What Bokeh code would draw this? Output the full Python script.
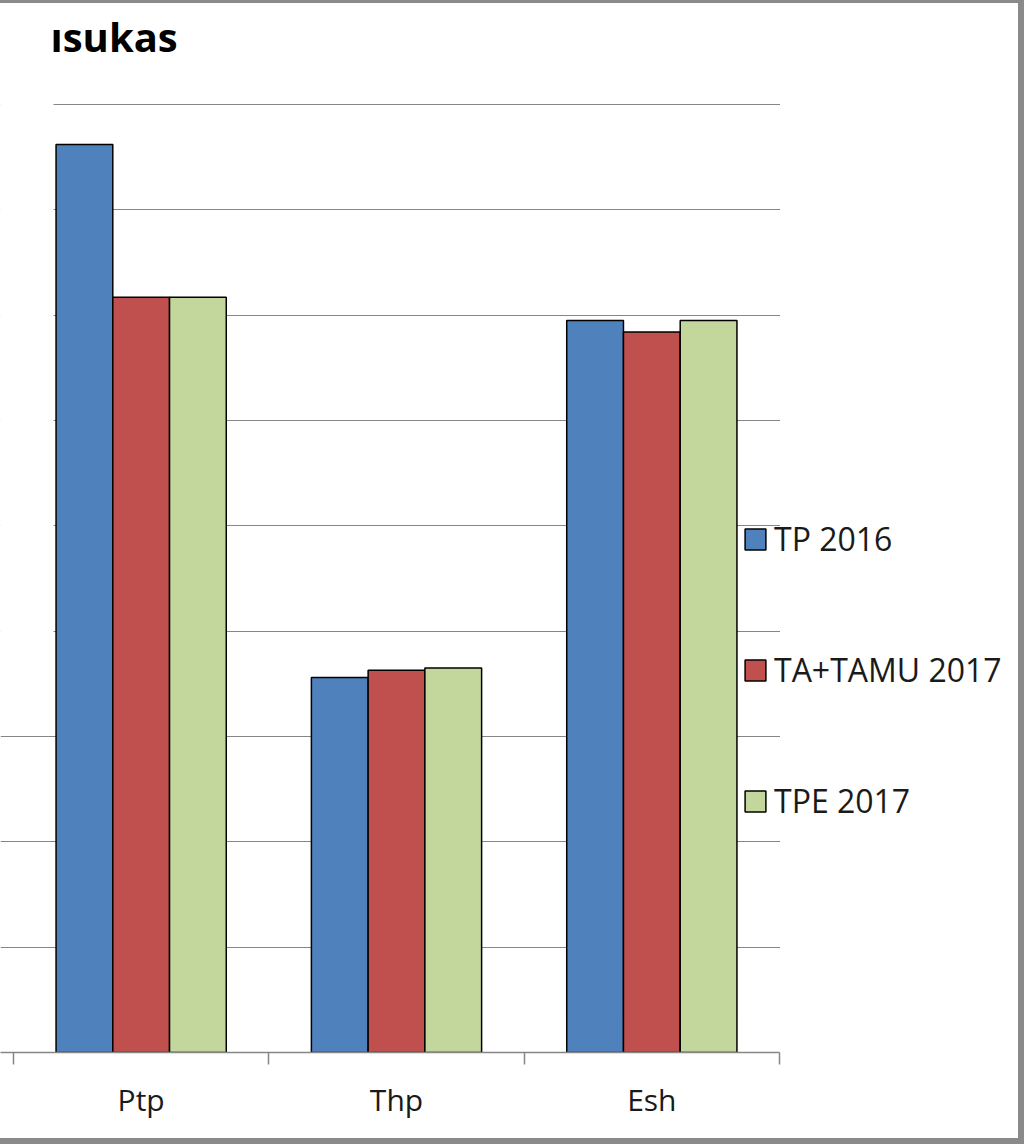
from bokeh.plotting import figure
from bokeh.models import (Range1d, LinearAxis, FixedTicker, Grid, Label, BoxAnnotation)
from bokeh.embed import file_html
from bokeh.resources import INLINE
from bokeh.models import ColumnDataSource

# ---- data ----
categories = ["Ptp", "Thp", "Esh"]
series_names = ["TP 2016", "TA+TAMU 2017", "TPE 2017"]
tp_2016 = [86.2, 35.6, 69.5]
ta_tamu_2017 = [71.7, 36.3, 68.4]
tpe_2017 = [71.7, 36.5, 69.5]
grid_values = [10, 20, 30, 40, 50, 60, 70, 80, 90]
colors = ["#4F81BD", "#C0504D", "#C3D69B"]
title_text = "ısukas"

FONT = "Open Sans"
GRAY = "#868686"

n = len(categories)
x_centers = [i + 0.5 for i in range(n)]
boundaries = [float(i) for i in range(n + 1)]
bar_w = 1 / 4.5
offsets = [-bar_w, 0.0, bar_w]

X0, X1 = -0.0509, 3.9595
p = figure(width=1024, height=1144,
           x_range=Range1d(X0, X1), y_range=Range1d(0, 99.873),
           output_backend="svg", toolbar_location=None,
           x_axis_location=None, y_axis_location=None,
           min_border_left=0, min_border_right=0,
           min_border_top=0, min_border_bottom=92)
p.grid.visible = False
p.outline_line_color = None
p.background_fill_color = "white"
p.border_fill_color = "white"

# category axis: labels at centres, boundary tick marks as minor ticks
xaxis = LinearAxis(ticker=FixedTicker(ticks=x_centers, minor_ticks=boundaries),
                   bounds=(X0 - 0.2, boundaries[-1]),
                   major_label_overrides={c: t for c, t in zip(x_centers, categories)},
                   axis_line_color=GRAY, axis_line_width=1.5,
                   major_tick_line_color=None, major_tick_out=0, major_tick_in=0,
                   minor_tick_line_color=GRAY, minor_tick_line_width=1.5,
                   minor_tick_out=12, minor_tick_in=0,
                   major_label_standoff=14,
                   major_label_text_font=FONT, major_label_text_font_size="30px",
                   major_label_text_color="#1a1a1a")
p.add_layout(xaxis, "below")

grid = Grid(dimension=1, ticker=FixedTicker(ticks=grid_values),
            grid_line_color=GRAY, grid_line_width=1.2)
p.add_layout(grid, "center")

# gridlines stop at the last category boundary / cropped-off top-left corner
p.add_layout(BoxAnnotation(left=boundaries[-1] + 0.002, right=1018, bottom=0, top=1060,
                           left_units="data", right_units="screen",
                           bottom_units="screen", top_units="screen",
                           fill_color="white", fill_alpha=1, line_color=None,
                           line_alpha=0, level="underlay"))
p.add_layout(BoxAnnotation(left=X0 - 1.0, right=53, bottom=360, top=1060,
                           left_units="data", right_units="screen",
                           bottom_units="screen", top_units="screen",
                           fill_color="white", fill_alpha=1, line_color=None,
                           line_alpha=0, level="underlay"))

series = [tp_2016, ta_tamu_2017, tpe_2017]
for name, vals, color, off in zip(series_names, series, colors, offsets):
    src = ColumnDataSource(dict(x=[c + off for c in x_centers], top=vals))
    p.vbar(x="x", top="top", bottom=0, width=bar_w, source=src,
           fill_color=color, line_color="black", line_width=1.5,
           legend_label=name)

# legend
leg = p.legend[0]
leg.location = (742, 230)
leg.orientation = "vertical"
leg.glyph_width = 26
leg.glyph_height = 26
leg.label_height = 30
leg.spacing = 88
leg.padding = 0
leg.margin = 0
leg.label_standoff = 6
leg.label_text_font = FONT
leg.label_text_font_size = "32px"
leg.label_text_color = "#1a1a1a"
leg.border_line_alpha = 0
leg.background_fill_alpha = 0

# title (cropped)
p.add_layout(Label(x=50, y=1016, x_units="screen", y_units="screen",
                   text=title_text, text_font=FONT, text_font_style="bold",
                   text_font_size="40px", text_color="black",
                   text_baseline="alphabetic"))

# gray frame of the screenshot
p.stylesheets = [
    ":host { position: relative; }",
    ":host::after { content: ''; position: absolute; left: 0; top: 0; width: 1024px; height: 1144px;"
    " box-sizing: border-box; border-top: 3px solid #8a8a8a; border-right: 6px solid #8a8a8a;"
    " border-bottom: 6px solid #8a8a8a; pointer-events: none; z-index: 10; }",
]

open("out.html", "w").write(file_html(p, INLINE))
